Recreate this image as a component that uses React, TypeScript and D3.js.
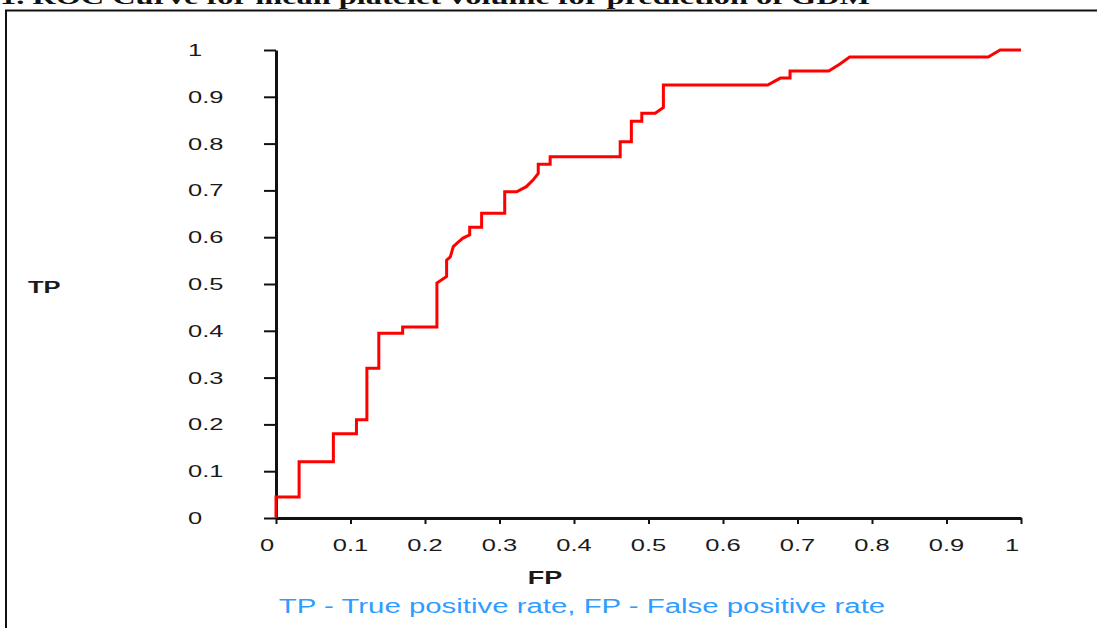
import React, { useEffect, useRef } from 'react';
import * as d3 from 'd3';

// ROC curve points (false positive rate, true positive rate)
const fpRate = [
  0, 0, 0.031, 0.031, 0.077, 0.077, 0.108, 0.108, 0.122, 0.122,
  0.138, 0.138, 0.17, 0.17, 0.216, 0.216, 0.229, 0.229, 0.234, 0.238,
  0.245, 0.251, 0.26, 0.26, 0.276, 0.276, 0.307, 0.307, 0.323, 0.336,
  0.345, 0.352, 0.352, 0.368, 0.368, 0.462, 0.462, 0.477, 0.477, 0.491,
  0.491, 0.509, 0.52, 0.52, 0.66, 0.677, 0.69, 0.69, 0.742, 0.757,
  0.77, 0.956, 0.972, 1.0,
];
const tpRate = [
  0, 0.045, 0.045, 0.12, 0.12, 0.18, 0.18, 0.21, 0.21, 0.32,
  0.32, 0.395, 0.395, 0.408, 0.408, 0.502, 0.516, 0.551, 0.558, 0.58,
  0.59, 0.598, 0.605, 0.621, 0.621, 0.651, 0.651, 0.697, 0.697, 0.708,
  0.722, 0.736, 0.756, 0.756, 0.772, 0.772, 0.804, 0.804, 0.848, 0.848,
  0.865, 0.865, 0.877, 0.925, 0.925, 0.94, 0.94, 0.955, 0.955, 0.97,
  0.985, 0.985, 1.0, 1.0,
];

const tickValues = [0, 0.1, 0.2, 0.3, 0.4, 0.5, 0.6, 0.7, 0.8, 0.9, 1];
const tickLabels = ['0', '0.1', '0.2', '0.3', '0.4', '0.5', '0.6', '0.7', '0.8', '0.9', '1'];

const title = '1. ROC Curve for mean platelet volume for prediction of GDM';
const yTitle = 'TP';
const xTitle = 'FP';
const footnote = 'TP - True positive rate, FP - False positive rate';

const W = 1097;
const H = 628;
const STRETCH = 1.5; // the source image is squashed wide, so text is too

const App = () => {
  const svgRef = useRef<SVGSVGElement>(null);

  useEffect(() => {
    if (!svgRef.current) return;
    const svg = d3.select(svgRef.current);
    svg.selectAll('*').remove();

    const x = d3.scaleLinear().domain([0, 1]).range([276, 1021]);
    const y = d3.scaleLinear().domain([0, 1]).range([518, 50]);

    // stretched text helper
    const label = (tx: number, ty: number, txt: string, opts: any = {}) => {
      svg.append('text')
        .attr('transform', `translate(${tx},${ty}) scale(${opts.sx ?? STRETCH},1)`)
        .attr('text-anchor', opts.anchor ?? 'start')
        .attr('font-family', opts.family ?? 'Liberation Sans, Arial, sans-serif')
        .attr('font-size', opts.size ?? 17)
        .attr('font-weight', opts.weight ?? 'normal')
        .attr('fill', opts.fill ?? '#1a1a1a')
        .text(txt);
    };

    // frame around the figure
    svg.append('path')
      .attr('d', `M6,${H} L6,10.5 L${W},10.5`)
      .attr('fill', 'none')
      .attr('stroke', '#111')
      .attr('stroke-width', 2);

    // title, cut off at the top edge
    svg.append('text')
      .attr('x', 0)
      .attr('y', 4)
      .attr('font-family', 'Liberation Serif, Times New Roman, serif')
      .attr('font-weight', 'bold')
      .attr('font-size', 22)
      .attr('textLength', 870)
      .attr('lengthAdjust', 'spacingAndGlyphs')
      .attr('fill', '#111')
      .text(title);

    // y axis
    const gy = svg.append('g')
      .attr('transform', `translate(${x(0)},0)`)
      .call(d3.axisLeft(y).tickValues(tickValues).tickSize(12).tickSizeOuter(0).tickFormat(() => ''));
    gy.select('.domain').attr('stroke', '#111').attr('stroke-width', 3);
    gy.selectAll('.tick line').attr('stroke', '#111').attr('stroke-width', 2);

    // x axis
    const gx = svg.append('g')
      .attr('transform', `translate(0,${y(0)})`)
      .call(d3.axisBottom(x).tickValues(tickValues).tickSize(6).tickSizeOuter(0).tickFormat(() => ''));
    gx.select('.domain').attr('stroke', '#111').attr('stroke-width', 3);
    gx.selectAll('.tick line').attr('stroke', '#111').attr('stroke-width', 2);

    tickValues.forEach((v, i) => {
      label(188, y(v) + 6, tickLabels[i]);
      const shift = tickLabels[i].length === 1 ? -9 : 0;
      label(x(v) + shift, y(0) + 33, tickLabels[i], { anchor: 'middle' });
    });

    label(28, 293, yTitle, { weight: 'bold' });
    label(545, 584, xTitle, { weight: 'bold', anchor: 'middle', size: 18 });
    label(582, 613, footnote, { anchor: 'middle', size: 20, sx: 1.47, fill: '#2f9cff' });

    // ROC curve
    const pts = fpRate.map((f, i) => [f, tpRate[i]] as [number, number]);
    const line = d3.line<[number, number]>()
      .x(d => x(d[0]))
      .y(d => y(d[1]));
    svg.append('path')
      .datum(pts)
      .attr('d', line)
      .attr('fill', 'none')
      .attr('stroke', '#ff0000')
      .attr('stroke-width', 3)
      .attr('stroke-linejoin', 'miter');
  }, []);

  return (
    <div style={{ position: 'absolute', left: 0, top: 0, width: W, height: H, background: '#fff' }}>
      <svg ref={svgRef} width={W} height={H} style={{ display: 'block' }}></svg>
    </div>
  );
};

export default App;
